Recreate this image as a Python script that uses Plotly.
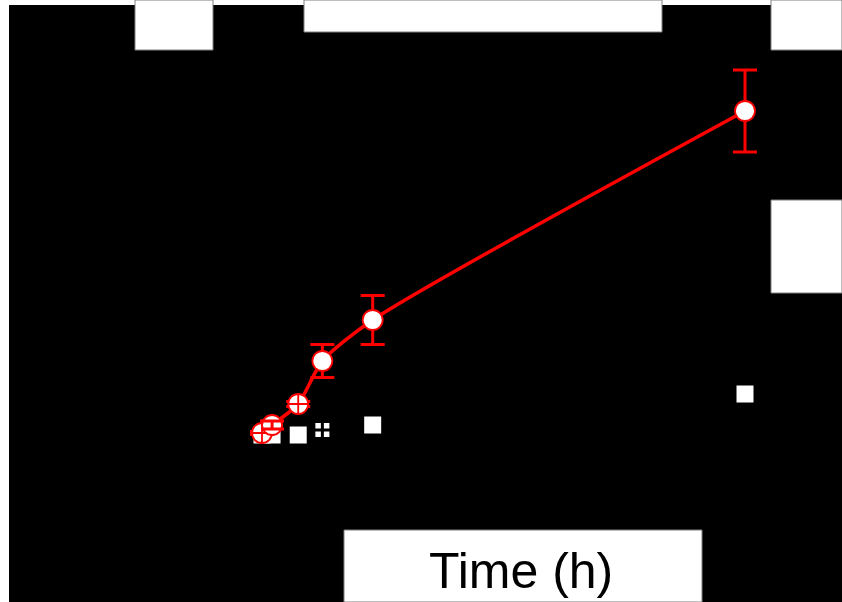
import plotly.graph_objects as go

# ---- data ----
time_h = [0, 0.5, 1.8, 3, 5.5, 24]
red_mean = [1, 3, 8.25, 19, 29.25, 81.5]
red_sd = [0.4, 1.0, 0.6, 4.1, 6.1, 10.25]
black_mean = [0.5, 0.5, 0.5, 1.75, 3, 10.75]
black_sd = [0.3, 0.3, 0.3, 0.5, 1.5, 2.0]
x_title = "Time (h)"

# points whose error bars are visible on top of the marker
red_top_idx = [1]

W, H = 842, 602
L, T = 9, 5  # plot area offsets in px


def px(x):
    return (x - L) / (W - L)


def py(y):
    return (H - y) / (H - T)


fig = go.Figure()

# black series (line invisible on black)
fig.add_trace(go.Scatter(
    x=time_h, y=black_mean, mode="lines+markers",
    line=dict(color="black", width=3),
    marker=dict(symbol=["square", "square", "square", "square-cross", "square", "square"],
                size=17, color="white",
                line=dict(color="black", width=[0, 0, 0, 3, 0, 0])),
    error_y=dict(type="data", array=black_sd, color="black", thickness=3, width=12),
    showlegend=False, hoverinfo="skip"))

# red series
fig.add_trace(go.Scatter(
    x=time_h, y=red_mean, mode="lines+markers",
    line=dict(color="#ff0000", width=3.5, shape="spline", smoothing=0.7),
    marker=dict(symbol=["circle-cross", "circle", "circle-cross", "circle", "circle", "circle"],
                size=20, color="white", line=dict(color="#ff0000", width=1.8)),
    error_y=dict(type="data", array=red_sd, color="#ff0000", thickness=3, width=12),
    showlegend=False, hoverinfo="skip"))
fig.add_trace(go.Scatter(
    x=[time_h[i] for i in red_top_idx], y=[red_mean[i] for i in red_top_idx],
    mode="markers", marker=dict(size=1, color="rgba(0,0,0,0)"),
    error_y=dict(type="data", array=[red_sd[i] for i in red_top_idx],
                 color="#ff0000", thickness=3, width=11),
    showlegend=False, hoverinfo="skip"))

# white panels
rects = [(135, 0, 213, 50), (304, 0, 662, 32), (771, 0, 842, 50),
         (771, 200, 842, 293), (344, 530, 702, 602)]
shapes = []
for x0, y0, x1, y1 in rects:
    shapes.append(dict(type="rect", xref="paper", yref="paper",
                       x0=px(x0), x1=px(x1), y0=py(y1), y1=py(y0),
                       fillcolor="white", line=dict(color="#808080", width=1),
                       layer="above"))

fig.update_layout(
    width=W, height=H,
    margin=dict(l=L, r=0, t=T, b=0),
    paper_bgcolor="white", plot_bgcolor="black",
    xaxis=dict(range=[-12.571, 28.82], visible=False),
    yaxis=dict(range=[-41.25, 108], visible=False),
    shapes=shapes,
    annotations=[dict(text=x_title, xref="paper", yref="paper",
                      x=px(521), y=py(571), xanchor="center", yanchor="middle",
                      showarrow=False,
                      font=dict(family="Liberation Sans, Arial", size=50, color="black"))],
)

fig.write_html("out.html", config={"displayModeBar": False},
               post_script="document.body.style.margin='0px';document.body.style.overflow='hidden';")
